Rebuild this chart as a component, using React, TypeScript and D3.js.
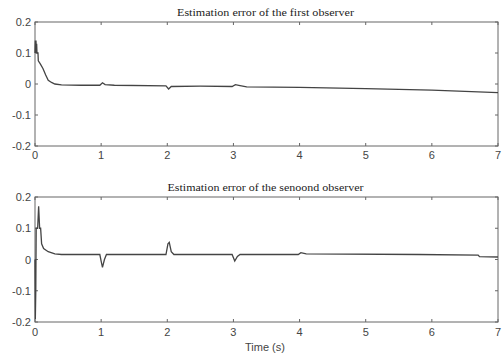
import React from "react";
import * as d3 from "d3";

const xTicks = [0, 1, 2, 3, 4, 5, 6, 7];
const yTicks = [-0.2, -0.1, 0, 0.1, 0.2];
const yTickLabels = ["-0.2", "-0.1", "0", "0.1", "0.2"];

const title1 = "Estimation error of the first observer";
const title2 = "Estimation error of the senoond observer";
const xLabel = "Time (s)";

const t1 = [0, 0.005, 0.01, 0.015, 0.02, 0.025, 0.03, 0.045, 0.05, 0.08, 0.12, 0.16, 0.2, 0.25, 0.3, 0.4, 0.7, 0.98, 1.02, 1.06, 1.2, 1.98, 2.02, 2.06, 2.5, 2.98, 3.03, 3.1, 3.2, 4.0, 5.0, 6.0, 7.0];
const e1 = [0.10, 0.14, 0.11, 0.14, 0.10, 0.13, 0.10, 0.10, 0.075, 0.065, 0.05, 0.03, 0.012, 0.005, 0.0, -0.003, -0.004, -0.004, 0.004, -0.002, -0.004, -0.006, -0.016, -0.008, -0.007, -0.008, -0.002, -0.005, -0.009, -0.011, -0.015, -0.02, -0.028];

const t2 = [0, 0.005, 0.012, 0.018, 0.03, 0.04, 0.055, 0.07, 0.085, 0.1, 0.13, 0.2, 0.3, 0.4, 0.98, 1.0, 1.02, 1.05, 1.08, 1.98, 2.01, 2.03, 2.06, 2.1, 2.98, 3.02, 3.06, 3.1, 3.98, 4.02, 4.1, 5.8, 6.7, 6.72, 7.0];
const e2 = [0.0, -0.19, -0.1, 0.1, 0.1, 0.1, 0.17, 0.1, 0.1, 0.05, 0.035, 0.025, 0.018, 0.016, 0.016, -0.005, -0.025, 0.0, 0.016, 0.016, 0.05, 0.055, 0.025, 0.016, 0.016, -0.005, 0.01, 0.016, 0.016, 0.022, 0.018, 0.016, 0.014, 0.009, 0.008];

const left = 35;
const right = 498;

function Panel({ top, bottom, title, titleY, titleLen, t, e, tickLabelY }: any) {
  const x = d3.scaleLinear().domain([0, 7]).range([left, right]);
  const y = d3.scaleLinear().domain([-0.2, 0.2]).range([bottom, top]);
  const line = d3
    .line<number>()
    .x((_, i) => x(t[i]))
    .y((d) => y(d));
  const tl = 3;
  return (
    <g>
      <text x={(left + right) / 2 - 1} y={titleY} textAnchor="middle" fontFamily="Liberation Serif" fontSize={10.5} fill="#222" textLength={titleLen} lengthAdjust="spacingAndGlyphs">
        {title}
      </text>
      <rect x={left} y={top} width={right - left} height={bottom - top} fill="none" stroke="#666" strokeWidth={1} />
      {xTicks.map((v) => (
        <g key={"x" + v}>
          <line x1={x(v)} x2={x(v)} y1={bottom} y2={bottom - tl} stroke="#666" />
          <line x1={x(v)} x2={x(v)} y1={top} y2={top + tl} stroke="#666" />
          <text x={x(v)} y={tickLabelY} textAnchor="middle" fontFamily="Liberation Sans" fontSize={11} fill="#444">
            {v}
          </text>
        </g>
      ))}
      {yTicks.map((v, i) => (
        <g key={"y" + v}>
          <line x1={left} x2={left + tl} y1={y(v)} y2={y(v)} stroke="#666" />
          <line x1={right} x2={right - tl} y1={y(v)} y2={y(v)} stroke="#666" />
          <text x={left - 4} y={y(v) + 4} textAnchor="end" fontFamily="Liberation Sans" fontSize={11} fill="#444">
            {yTickLabels[i]}
          </text>
        </g>
      ))}
      <path d={line(e) || ""} fill="none" stroke="#444" strokeWidth={1.3} />
    </g>
  );
}

export default function App() {
  return (
    <svg width={503} height={356} style={{ position: "absolute", left: 0, top: 0, background: "#fff" }}>
      <rect x={0} y={0} width={503} height={356} fill="#fff" />
      <Panel top={22} bottom={146} title={title1} titleY={16} titleLen={177} t={t1} e={e1} tickLabelY={159} />
      <Panel top={197} bottom={322} title={title2} titleY={191} titleLen={196} t={t2} e={e2} tickLabelY={336} />
      <text x={265} y={351} textAnchor="middle" fontFamily="Liberation Sans" fontSize={11} fill="#444">
        {xLabel}
      </text>
    </svg>
  );
}
